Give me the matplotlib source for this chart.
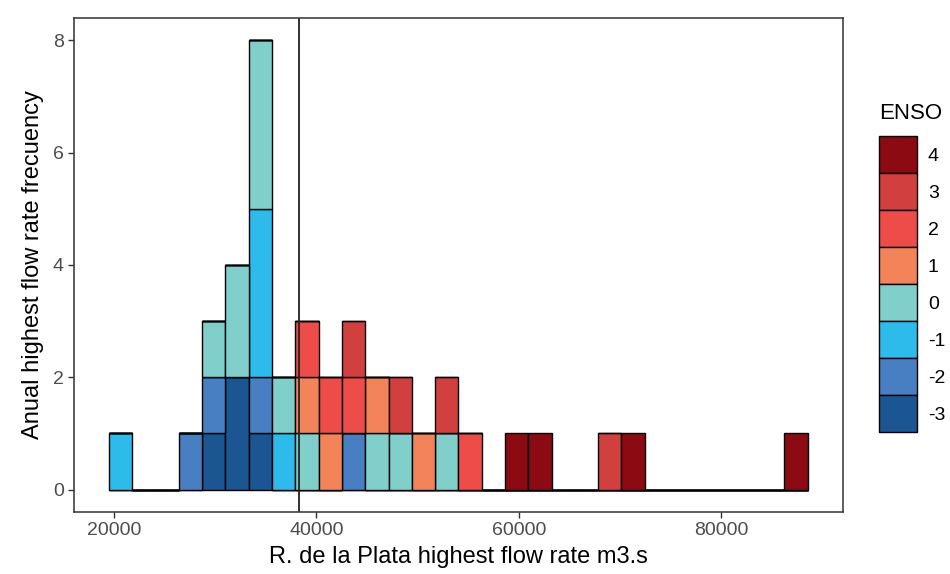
import numpy as np
import matplotlib
matplotlib.use("Agg")
import matplotlib.pyplot as plt
from matplotlib.patches import Patch

plt.rcParams['font.family'] = ['Liberation Sans', 'DejaVu Sans']

# annual highest flow (m3/s) and ENSO class of that year
flows = [20660, 27560,
         29870, 29870, 29870,
         32170, 32170, 32170, 32170,
         34470, 34470, 34470, 34470, 34470, 34470, 34470, 34470,
         36770, 36770,
         39070, 39070, 39070,
         41380, 41380,
         43680, 43680, 43680,
         45980, 45980,
         48280, 48280,
         50580,
         52890, 52890,
         55190,
         59790, 62090, 69000, 71300, 87420]
enso = [-1, -2,
        -3, -2, 0,
        -3, -3, 0, 0,
        -3, -2, -1, -1, -1, 0, 0, 0,
        -1, 0,
        0, 1, 2,
        1, 2,
        -2, 2, 3,
        0, 1,
        0, 3,
        1,
        0, 3,
        2,
        4, 4, 3, 4, 4]

classes = [-3, -2, -1, 0, 1, 2, 3, 4]
colors = ['#1B5592', '#487EC2', '#2DBBEC', '#80CFCB',
          '#F3845A', '#EE4C48', '#D1403F', '#8C0B13']

bin_start = 19506
bin_width = 2302
n_bins = 30
ref_line = 38270

flows = np.array(flows)
enso = np.array(enso)
edges = bin_start + bin_width * np.arange(n_bins + 1)
groups = [flows[enso == c] for c in classes]

fig = plt.figure(figsize=(9.5, 5.74), dpi=100)
ax = fig.add_axes([0.078, 0.108, 0.809, 0.861])

ax.hist(groups, bins=edges, stacked=True, color=colors,
        edgecolor='black', linewidth=1.0)
ax.axvline(ref_line, color='#222222', linewidth=1.3)

ax.set_xlim(edges[0] - 0.05 * (edges[-1] - edges[0]),
            edges[-1] + 0.05 * (edges[-1] - edges[0]))
ax.set_ylim(-0.4, 8.4)
ax.set_xticks([20000, 40000, 60000, 80000])
ax.set_yticks([0, 2, 4, 6, 8])

for s in ax.spines.values():
    s.set_color('#333333')
    s.set_linewidth(1.1)
ax.tick_params(direction='out', length=4, width=1, color='#333333',
               labelcolor='#4D4D4D', labelsize=14)

ax.set_xlabel('R. de la Plata highest flow rate m3.s', fontsize=17, labelpad=5)
ax.set_ylabel('Anual highest flow rate frecuency', fontsize=17, labelpad=6)

handles = [Patch(facecolor=c, edgecolor='black', linewidth=1.0) for c in colors]
labels = [str(c) for c in classes]
leg = fig.legend(handles[::-1], labels[::-1], title='ENSO',
                 loc='upper left', bbox_to_anchor=(0.925, 0.82),
                 frameon=False, fontsize=14, title_fontsize=16,
                 handlelength=1.96, handleheight=2.55, labelspacing=0.0,
                 handletextpad=0.57, borderpad=0.0, borderaxespad=0.0)
leg._legend_box.align = 'left'
leg._legend_box.sep = 8.6  # gap between title and keys

fig.savefig('out.png', dpi=100)
